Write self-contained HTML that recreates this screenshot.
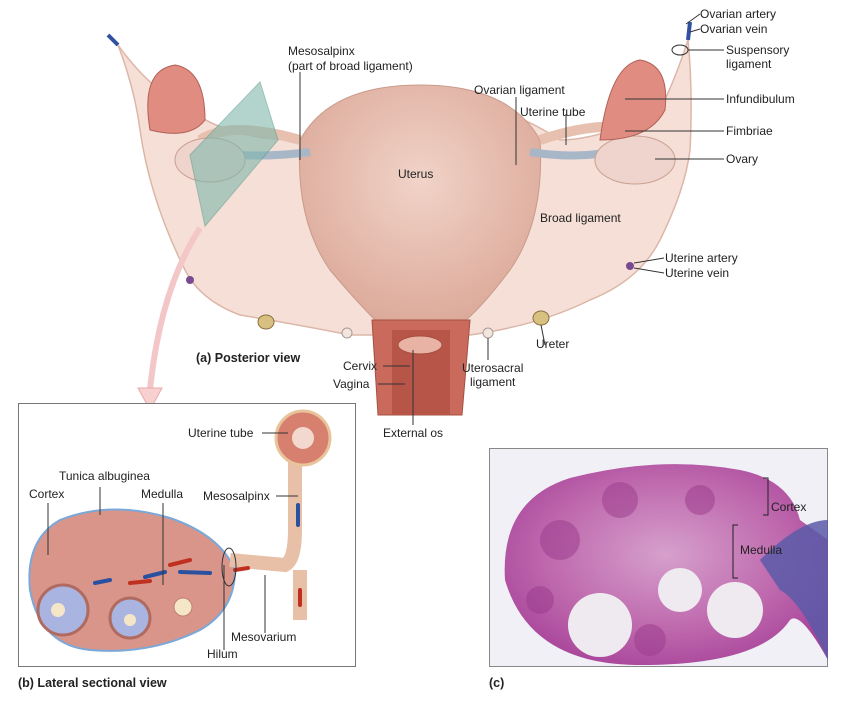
<!DOCTYPE html>
<html><head><style>
html,body{margin:0;padding:0;background:#fff;}
svg{display:block;font-family:"Liberation Sans",Arial,sans-serif;}
text{font-size:12px;fill:#222;}
.b{font-weight:bold;font-size:12.5px;}
</style></head><body>
<svg width="848" height="713" viewBox="0 0 848 713">
<defs>
<radialGradient id="ut" cx="0.5" cy="0.4" r="0.6"><stop offset="0" stop-color="#f1d3c8"/><stop offset="1" stop-color="#dcaa9a"/></radialGradient>
<radialGradient id="mic" cx="0.5" cy="0.45" r="0.6"><stop offset="0" stop-color="#d6a0cc"/><stop offset="0.6" stop-color="#bf6aae"/><stop offset="1" stop-color="#a8449a"/></radialGradient>
</defs>
<path d="M118,45 Q135,90 140,130 Q150,200 185,270 Q200,300 240,315 Q300,325 350,335 L470,335 Q540,325 590,300 Q640,280 660,240 Q685,190 690,150 Q693,90 688,40 Q675,80 660,110 Q600,140 560,140 Q500,100 430,100 Q350,100 300,140 Q230,140 190,110 Q150,90 118,45Z" fill="#f4dcd2" stroke="#d9b0a0" stroke-width="1.5" opacity="0.9"/>
<path d="M300,140 Q330,85 420,85 Q510,85 540,140 Q545,220 510,270 Q480,310 460,325 L380,325 Q355,300 330,270 Q295,220 300,140Z" fill="url(#ut)" stroke="#c99a8a"/>
<path d="M372,320 L470,320 L462,415 L378,415Z" fill="#c96a5c" stroke="#a55040"/>
<rect x="392" y="330" width="58" height="85" fill="#b65548"/>
<ellipse cx="420" cy="345" rx="22" ry="9" fill="#e8b3a5" stroke="#a55040"/>
<path d="M190,150 Q250,160 310,152" stroke="#a8b7c8" stroke-width="8" fill="none"/>
<path d="M530,152 Q580,160 620,150" stroke="#a8b7c8" stroke-width="8" fill="none"/>
<path d="M200,140 Q230,120 300,140" stroke="#e8c0b0" stroke-width="10" fill="none"/>
<path d="M540,140 Q600,120 640,130" stroke="#e8c0b0" stroke-width="10" fill="none"/>
<ellipse cx="210" cy="160" rx="35" ry="22" fill="#eed4cc" stroke="#c9a090"/>
<ellipse cx="635" cy="160" rx="40" ry="24" fill="#eed4cc" stroke="#c9a090"/>
<path d="M150,130 Q140,70 175,65 Q205,70 205,120 Q190,140 150,130Z" fill="#e08c80" stroke="#b0605a"/>
<path d="M600,140 Q610,65 640,60 Q670,65 665,110 Q650,140 600,140Z" fill="#e08c80" stroke="#b0605a"/>
<polygon points="190,155 260,82 278,140 205,226" fill="#7fb8ac" opacity="0.6" stroke="#5a9a8a"/>
<ellipse cx="266" cy="322" rx="8" ry="7" fill="#d8c080" stroke="#8a7040"/>
<ellipse cx="541" cy="318" rx="8" ry="7" fill="#d8c080" stroke="#8a7040"/>
<circle cx="347" cy="333" r="5" fill="#f3e6dc" stroke="#a99"/>
<circle cx="488" cy="333" r="5" fill="#f3e6dc" stroke="#a99"/>
<circle cx="190" cy="280" r="4" fill="#7a4a90"/>
<circle cx="630" cy="266" r="4" fill="#7a4a90"/>
<path d="M118,45 L108,35" stroke="#3050a0" stroke-width="4"/>
<path d="M688,40 L690,22" stroke="#3050a0" stroke-width="4"/>
<ellipse cx="680" cy="50" rx="8" ry="5" fill="none" stroke="#333"/>
<path d="M200,228 Q160,290 150,390" stroke="#f3c7c7" stroke-width="6" fill="none"/>
<polygon points="138,388 162,388 150,410" fill="#f8d0d0" stroke="#e9a9a9"/>
<g stroke="#333" stroke-width="1" fill="none">
<path d="M700,14 L686,24"/><path d="M700,29 L690,32"/><path d="M724,50 L688,50"/>
<path d="M724,99 L625,99"/><path d="M724,131 L625,131"/><path d="M724,159 L655,159"/>
<path d="M664,258 L634,263"/><path d="M664,273 L634,268"/>
<path d="M300,72 L300,160"/><path d="M516,97 L516,165"/><path d="M566,114 L566,145"/>
<path d="M545,345 L541,325"/><path d="M488,360 L488,338"/>
<path d="M383,366 L410,366"/><path d="M378,384 L405,384"/><path d="M413,425 L413,350"/>
</g>
<text x="700" y="18">Ovarian artery</text>
<text x="700" y="33">Ovarian vein</text>
<text x="726" y="54">Suspensory</text><text x="726" y="68">ligament</text>
<text x="726" y="103">Infundibulum</text>
<text x="726" y="135">Fimbriae</text>
<text x="726" y="163">Ovary</text>
<text x="665" y="262">Uterine artery</text>
<text x="665" y="277">Uterine vein</text>
<text x="288" y="55">Mesosalpinx</text>
<text x="288" y="70">(part of broad ligament)</text>
<text x="474" y="94">Ovarian ligament</text>
<text x="520" y="116">Uterine tube</text>
<text x="398" y="178">Uterus</text>
<text x="540" y="222">Broad ligament</text>
<text x="536" y="348">Ureter</text>
<text x="462" y="372">Uterosacral</text><text x="470" y="386">ligament</text>
<text x="343" y="370">Cervix</text>
<text x="333" y="388">Vagina</text>
<text x="383" y="437">External os</text>
<text x="196" y="362" class="b">(a) Posterior view</text>
<rect x="18.5" y="403.5" width="337" height="263" fill="#fff" stroke="#777"/>
<path d="M30,590 Q25,540 60,520 Q110,500 170,518 Q220,535 235,570 Q235,610 200,630 Q150,655 90,650 Q40,645 30,590Z" fill="#d9958a" stroke="#7aa8d8" stroke-width="2"/>
<circle cx="63" cy="610" r="25" fill="#a9b4e0" stroke="#b06a60" stroke-width="3"/><circle cx="58" cy="610" r="7" fill="#f6e6c8"/>
<circle cx="130" cy="618" r="20" fill="#a9b4e0" stroke="#b06a60" stroke-width="3"/><circle cx="130" cy="620" r="6" fill="#f6e6c8"/>
<circle cx="183" cy="607" r="9" fill="#f6e6c8" stroke="#c08070"/>
<path d="M230,560 L285,565 Q295,560 295,530 L295,460" stroke="#e8c0a8" stroke-width="14" fill="none"/>
<path d="M300,570 L300,620" stroke="#e8c0a8" stroke-width="14"/>
<circle cx="303" cy="438" r="27" fill="#d88070" stroke="#e8c49a" stroke-width="3"/><circle cx="303" cy="438" r="11" fill="#f3d8d0"/>
<g stroke-width="4" stroke-linecap="round"><path d="M95,583 L110,580" stroke="#2a50a0"/><path d="M130,583 L150,581" stroke="#c03020"/><path d="M145,577 L165,572" stroke="#2a50a0"/><path d="M170,565 L190,560" stroke="#c03020"/><path d="M180,572 L210,573" stroke="#2a50a0"/><path d="M235,570 L248,568" stroke="#c03020"/><path d="M298,505 L298,525" stroke="#2a50a0"/><path d="M300,590 L300,605" stroke="#c03020"/></g>
<ellipse cx="229" cy="567" rx="7" ry="19" fill="none" stroke="#333"/>
<g stroke="#333" fill="none"><path d="M262,433 L288,433"/><path d="M100,487 L100,515"/><path d="M48,503 L48,555"/><path d="M163,503 L163,585"/><path d="M276,496 L298,496"/><path d="M224,565 L224,650"/><path d="M265,575 L265,633"/></g>
<text x="188" y="437">Uterine tube</text>
<text x="59" y="480">Tunica albuginea</text>
<text x="29" y="498">Cortex</text>
<text x="141" y="498">Medulla</text>
<text x="203" y="500">Mesosalpinx</text>
<text x="231" y="641">Mesovarium</text>
<text x="207" y="658">Hilum</text>
<text x="18" y="687" class="b">(b) Lateral sectional view</text>
<rect x="489.5" y="448.5" width="338" height="218" fill="#f1f0f6" stroke="#888"/>
<path d="M505,580 Q500,500 570,478 Q660,455 740,470 Q790,480 800,520 L828,540 L828,660 Q800,610 790,620 Q760,665 640,665 Q530,665 505,580Z" fill="url(#mic)"/>
<g fill="#9a3a8c" opacity="0.5"><circle cx="560" cy="540" r="20"/><circle cx="620" cy="500" r="18"/><circle cx="700" cy="500" r="15"/><circle cx="540" cy="600" r="14"/><circle cx="650" cy="640" r="16"/></g>
<path d="M760,560 Q800,520 828,520 L828,660 Q800,600 780,590Z" fill="#5a5aa8" opacity="0.85"/>
<circle cx="600" cy="625" r="32" fill="#eeeaf0"/><circle cx="680" cy="590" r="22" fill="#eeeaf0"/><circle cx="735" cy="610" r="28" fill="#eeeaf0"/>
<path d="M763,478 L768,478 L768,515 L763,515" stroke="#222" fill="none"/>
<path d="M738,525 L733,525 L733,578 L738,578" stroke="#222" fill="none"/>
<text x="771" y="511">Cortex</text>
<text x="740" y="554">Medulla</text>
<text x="489" y="687" class="b">(c)</text>
</svg>
</body></html>
